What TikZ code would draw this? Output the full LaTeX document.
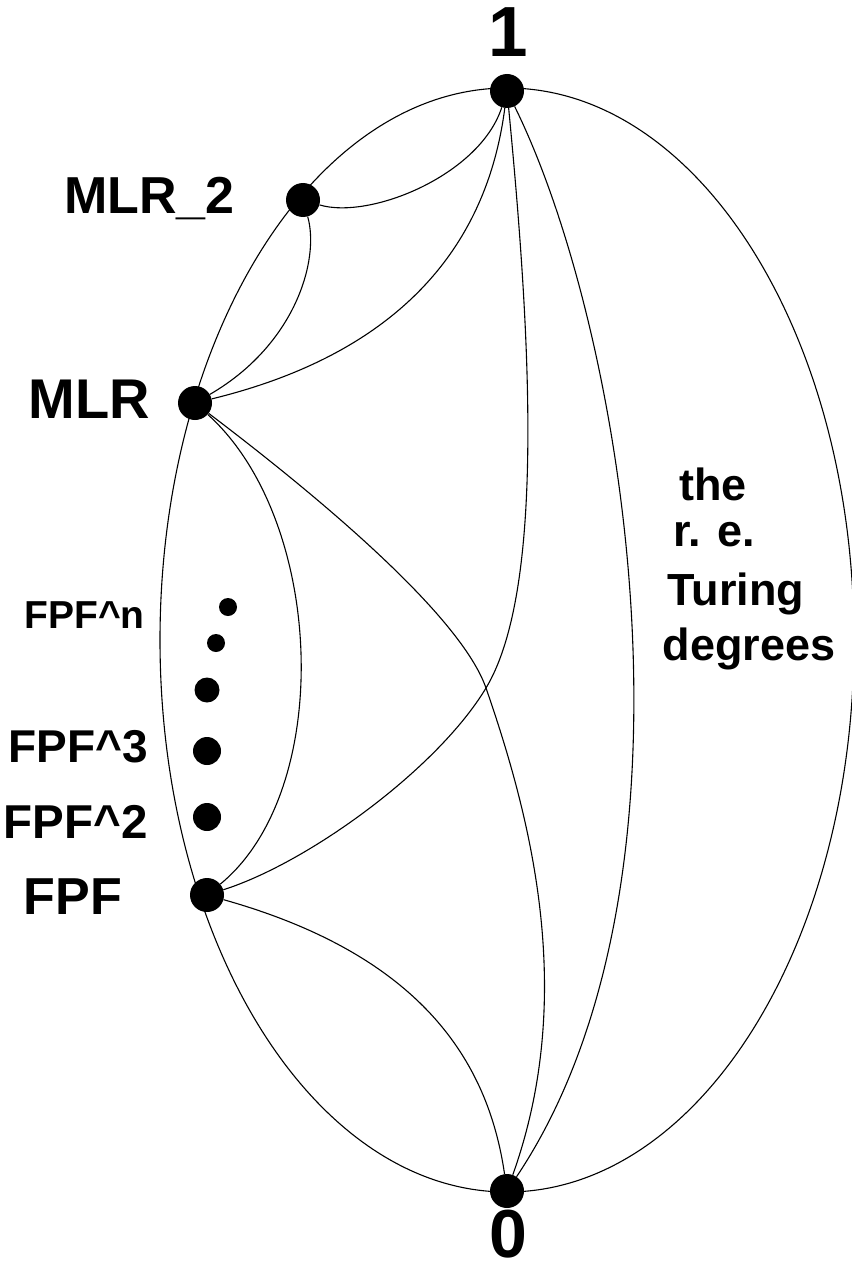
\documentclass[tikz,border=0pt]{standalone}
\usepackage{fontspec}
\setmainfont{Liberation Sans}
\begin{document}
\begin{tikzpicture}[x=1pt,y=-1pt,
  dot/.style={circle,fill=black,inner sep=0pt,minimum size=34pt},
  lbl/.style={inner sep=0pt},
  edge/.style={line width=1.1pt,black},
  fbig/.style={font=\fontsize{71}{71}\selectfont\bfseries},
  fmid/.style={font=\fontsize{52}{52}\selectfont\bfseries},
  ftxt/.style={font=\fontsize{45}{45}\selectfont\bfseries}]
\useasboundingbox (0,0) rectangle (851,1268);
% outer ellipse
\draw[edge] (507,640) ellipse [x radius=347, y radius=552];
% nodes
\node[dot] (one) at (507,91) {};
\node[dot] (mlrtwo) at (303,200) {};
\node[dot] (mlr) at (195,403) {};
\node[dot] (fpf) at (207,895) {};
\node[dot] (zero) at (507,1191) {};
\node[dot,minimum size=18pt] (fn) at (228,607) {};
\node[dot,minimum size=18pt] (fm) at (216,643) {};
\node[dot,minimum size=25pt] (f4) at (207,690) {};
\node[dot,minimum size=28pt] (f3) at (207,751) {};
\node[dot,minimum size=28pt] (f2) at (207,817) {};
\coordinate (cross) at (486,688);
% connectors
\draw[edge] (mlrtwo) .. controls (370,220) and (480,175) .. (one);
\draw[edge] (mlrtwo) .. controls (320,260) and (295,345) .. (mlr);
\draw[edge] (mlr) .. controls (330,370) and (480,300) .. (one);
\draw[edge] (mlr) .. controls (325,520) and (335,790) .. (fpf);
\draw[edge] (mlr) .. controls (290,475) and (458,608) .. (cross)
            .. controls (531,818) and (577,995) .. (zero);
\draw[edge] (fpf) .. controls (310,862) and (438,768) .. (cross)
            .. controls (546,588) and (530,330) .. (one);
\draw[edge] (fpf) .. controls (420,955) and (488,1060) .. (zero);
\draw[edge] (one) .. controls (625,330) and (715,880) .. (zero);
% labels
\node[lbl,fbig,anchor=base] (lone) at (508,57) {1};
\node[lbl,font=\fontsize{68}{68}\selectfont\bfseries,anchor=base] (lzero) at (508,1257) {0};
\node[lbl,fmid,anchor=base east] (lmlrtwo) at (235,213) {MLR\_2};
\node[lbl,font=\fontsize{56}{56}\selectfont\bfseries,anchor=base east] (lmlr) at (150,418) {MLR};
\node[lbl,font=\fontsize{39}{39}\selectfont\bfseries,anchor=base east] (lfpfn) at (145,628) {FPF\textasciicircum n};
\node[lbl,font=\fontsize{46}{46}\selectfont\bfseries,anchor=base east] (lfpfthree) at (148,762) {FPF\textasciicircum 3};
\node[lbl,font=\fontsize{47.5}{47.5}\selectfont\bfseries,anchor=base east] (lfpftwo) at (148,838) {FPF\textasciicircum 2};
\node[lbl,fmid,anchor=base east] (lfpf) at (122,914) {FPF};
\node[lbl,ftxt,anchor=base] (tthe) at (713,500) {the};
\node[lbl,ftxt,anchor=base] (tre) at (714,546) {r. e.};
\node[lbl,ftxt,anchor=base] (tturing) at (736,605) {Turing};
\node[lbl,ftxt,anchor=base] (tdeg) at (749,660) {degrees};
\end{tikzpicture}
\end{document}
